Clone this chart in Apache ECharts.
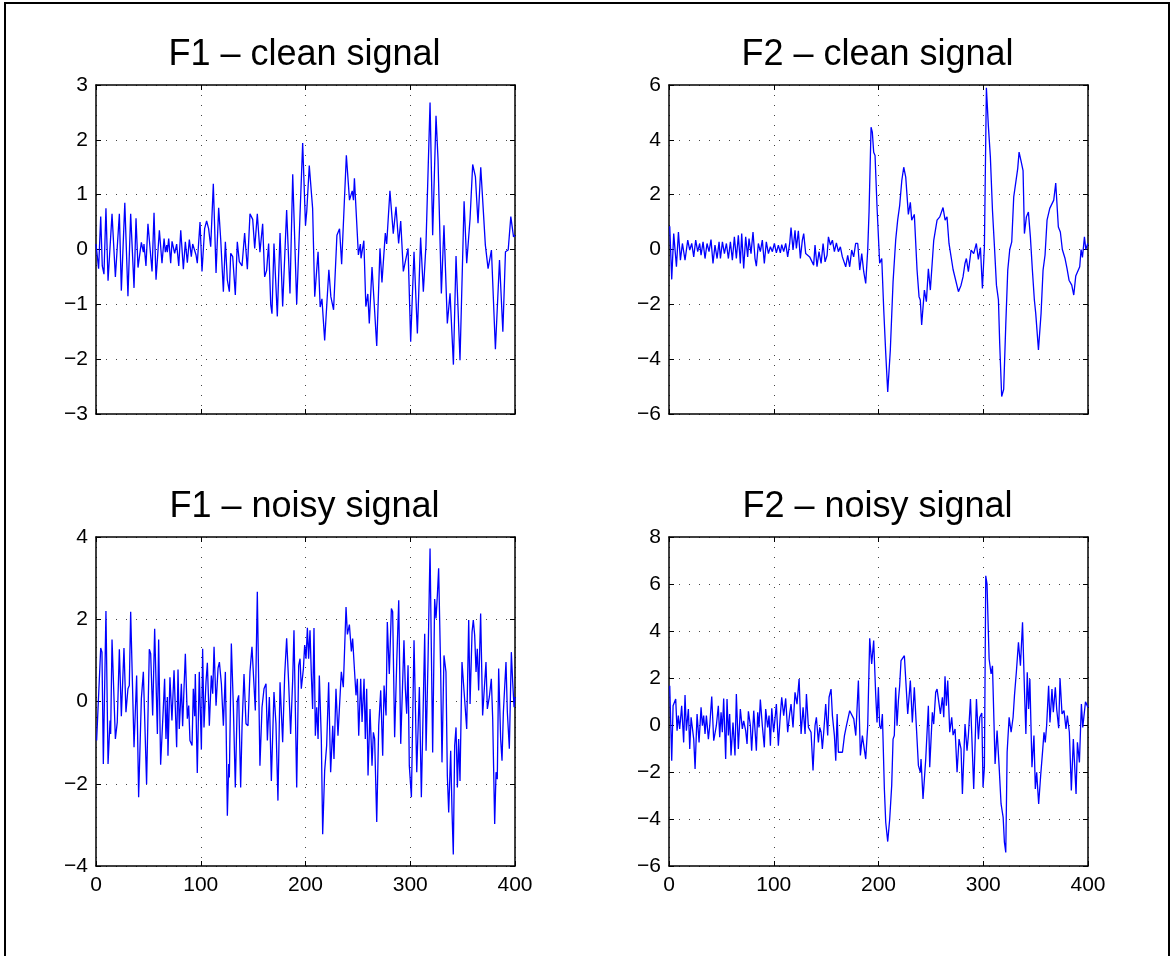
<!DOCTYPE html>
<html>
<head>
<meta charset="utf-8">
<title>F1 / F2 signals</title>
<script src="https://cdn.jsdelivr.net/npm/echarts@6/dist/echarts.min.js"></script>
<style>
  html, body { margin: 0; padding: 0; background: #fff; }
  #main { width: 1171px; height: 956px; }
</style>
</head>
<body>
<div id="main"></div>
<script>
// x ticks shared by all panels
var xTicks = [0, 100, 200, 300, 400];

// titles
var titles = ['F1 \u2013 clean signal', 'F2 \u2013 clean signal', 'F1 \u2013 noisy signal', 'F2 \u2013 noisy signal'];

// y ranges [min, max, step]
var f1CleanTicks = [-3, 3, 1];
var f2CleanTicks = [-6, 6, 2];
var f1NoisyTicks = [-4, 4, 2];
var f2NoisyTicks = [-6, 8, 2];

// signals, [sample, value]
var f1Clean = [[0,0.1],[2.5,-0.35],[4.5,0.6],[6,-0.3],[7.6,-0.45],[9.5,0.75],[11.5,-0.57],[15.3,0.65],[18.5,-0.5],[22.3,0.65],
  [24.2,-0.75],[27.5,0.85],[30.5,-0.85],[33.1,0.65],[36.3,-0.7],[38.2,0.57],[40.1,-0.33],[43.3,0.13],[45.2,-0.05],[45.8,0.1],
  [47.7,-0.3],[49.6,0.47],[53.5,-0.4],[55.4,0.67],[57.3,-0.55],[60.5,0.35],[63,-0.25],[65,0.2],[66.2,-0.05],[67.5,0.08],
  [68.1,-0.05],[69.4,0.2],[71.3,-0.25],[72.6,0.15],[75.1,-0.07],[77,0.1],[79,-0.3],[80.9,0.35],[83.4,-0.36],[85.3,0.14],
  [87.2,-0.24],[89.1,0.18],[91,-0.13],[92.3,0.1],[94.2,0.1],[95.5,-0.1],[96.7,-0.25],[98,-0.26],[99.3,0.5],[101.2,-0.4],
  [103.7,0.38],[105.6,0.52],[107.5,0.38],[109.5,0.05],[112,1.2],[114.6,-0.43],[117.1,0.76],[119.1,0.17],[121.6,-0.77],[123.5,0.14],
  [125.4,-0.56],[127.3,-0.77],[128.6,-0.07],[130.5,-0.13],[133,-0.83],[134.9,0.14],[136.8,-0.22],[139.4,-0.3],[141.9,0.3],[144.5,-0.36],
  [147,0.65],[149.6,0.55],[151.5,0.02],[154,0.65],[156.5,-0.05],[159.1,0.47],[161,-0.5],[162.9,-0.38],[164.8,0.11],[166.8,-1.0],
  [168,-1.17],[169.9,0.11],[173.1,-1.22],[175.7,0.3],[178.2,-1.04],[182,0.72],[185.2,-0.8],[187.8,1.37],[191.6,-1.0],[197.3,1.94],
  [200,0.44],[201.2,0.7],[203.6,1.53],[206.8,0.75],[208.8,-0.86],[212,-0.04],[214,-1.05],[215.7,-0.9],[218.3,-1.66],[222.3,-0.37],
  [224.2,-0.86],[226.8,-1.1],[230,0.26],[232.5,0.38],[234.5,-0.27],[239,1.72],[242,0.9],[244.6,1.07],[245.8,0.9],[246.7,1.3],
  [250.5,-0.1],[252.4,0.1],[253,-0.16],[255.7,0.16],[257.6,-1.04],[259.5,-0.81],[260.9,-1.35],[263.5,-0.32],[268,-1.76],[271.1,0.02],
  [273,-0.6],[276.2,0.3],[277.5,0.1],[280.6,1.07],[283.8,0.29],[286.4,0.78],[288.9,0.11],[290.9,0.52],[293.4,-0.4],[297.9,0.02],
  [300.4,-1.68],[303.6,-0.04],[306.8,-1.53],[309.9,0.22],[312.5,-0.77],[315,0.08],[318.9,2.68],[321.4,0.26],[324.6,2.44],[326.5,1.65],
  [329.7,-0.8],[332.2,0.44],[335.4,-1.35],[338,-0.8],[341.2,-2.1],[343.7,-0.12],[347.5,-2.02],[351.4,0.88],[353.9,-0.25],[357.1,0.56],
  [359.6,1.55],[362.2,1.33],[364.7,0.48],[367.3,1.5],[371.7,0.08],[374.3,-0.35],[377.5,-0.01],[381.3,-1.82],[385.2,-0.19],[388.4,-1.5],
  [390.9,-0.04],[393.5,-0.01],[396,0.6],[398.6,0.23],[400,0.26]];

var f2Clean = [[0.7,0.85],[2.6,-1.09],[4.5,0.58],[7.1,-0.63],[9,0.64],[10.9,-0.39],[12.8,0.22],[15.3,-0.39],[17.9,0.34],[19.8,-0.02],
  [21.7,0.22],[23.6,-0.27],[25.5,0.34],[27.4,-0.08],[29.3,0.22],[30.6,-0.21],[32.5,0.28],[34.4,-0.33],[36.3,0.22],[38.2,-0.08],
  [40.1,0.36],[42,-0.51],[43.9,0.16],[45.9,-0.33],[47.8,0.28],[49.1,-0.33],[51,0.28],[52.9,-0.15],[54.8,0.22],[56.7,-0.33],
  [58.6,0.28],[60.5,-0.39],[62.4,0.46],[64.3,-0.33],[66.2,0.52],[68.1,-0.51],[69.4,0.58],[71.3,-0.69],[73.2,0.46],[75.1,-0.27],
  [76.4,0.4],[78.3,-0.15],[80.2,0.64],[82.1,-0.33],[83.4,-0.61],[85.3,0.22],[87.2,-0.08],[89.1,0.34],[91,-0.51],[92.9,0.28],
  [94.9,-0.15],[96.8,0.1],[98.7,-0.08],[100.6,0.22],[102.5,-0.12],[104.4,0.16],[106.3,-0.12],[107.6,0.18],[109.5,-0.08],[111.4,0.22],
  [113.3,-0.27],[115.2,0.22],[116.5,0.8],[118.4,-0.02],[120.3,0.7],[121.6,0.04],[123.5,0.68],[125.4,-0.33],[127.3,0.34],[128.6,0.58],
  [130.5,-0.15],[132.4,-0.08],[134.3,-0.27],[136.2,-0.33],[138.1,-0.57],[139.4,0.16],[141.3,-0.63],[143.2,-0.08],[145.2,-0.51],[147.1,0.22],
  [149,-0.45],[150.9,-0.21],[152.2,0.46],[154.1,0.16],[156,0.34],[157.9,-0.08],[159.8,0.24],[161.7,-0.08],[163.6,0.1],[165.5,-0.27],
  [167.4,-0.33],[168.7,-0.63],[170.6,-0.21],[172.5,-0.63],[174.4,-0.02],[176.3,-0.27],[178.2,0.22],[180.2,0.22],[182.1,-0.75],[184,-0.15],
  [185.9,-0.81],[187.8,-1.24],[189.7,-0.02],[191,1.4],[192.9,4.46],[194.1,4.28],[195.4,3.55],[196.7,3.43],[198.6,1.55],[199.9,1.55],
  [201.1,-0.5],[203.1,-0.33],[205,-2.2],[206.9,-3.78],[208.8,-5.2],[211.3,-3.66],[213.9,-1.18],[216.4,0.34],[218.3,1.07],[220.2,1.6],
  [222.2,2.5],[224.1,3.0],[226,2.64],[228.5,1.28],[230.4,1.72],[231.7,1.07],[234.2,1.28],[236.8,-0.75],[238.7,-1.72],[239.9,-1.84],
  [241.2,-2.75],[243.8,-1.48],[245.7,-1.9],[247.6,-0.7],[249.5,-1.48],[250.8,-1.48],[252.7,0.32],[254.6,0.34],[255.9,1.07],[257.2,1.05],
  [258.5,1.19],[259.7,1.21],[261.6,1.53],[263.6,1.07],[265.4,1.19],[267.3,0.22],[269.2,0.2],[271.2,-0.73],[273.1,-0.7],[276.3,-1.54],
  [278.8,-1.3],[280.7,-1.0],[282.6,-0.5],[283.9,-0.33],[285.8,-0.81],[288.4,-0.02],[290.9,-0.15],[293.4,0.22],[295.3,-0.36],[297.3,0.07],
  [299.2,-1.42],[301.1,0.1],[303,5.9],[304.9,4.5],[306.8,3.37],[308.8,1.43],[310.7,0.1],[312.6,-1.3],[314.5,-1.84],[315.7,-3.42],
  [317.6,-5.36],[319.5,-5.1],[321.5,-2.75],[323.4,-0.75],[325.3,0],[327.2,0.28],[329.1,1.92],[331,1.94],[332.9,2.95],[334.2,3.55],
  [336.1,3.22],[338,2.88],[339.3,0.58],[341.2,1.19],[343.1,1.37],[345,0.46],[346.9,-0.75],[348.8,-1.84],[350.1,-2.33],[352.7,-3.66],
  [355.2,-2.33],[357.1,-0.75],[359,-0.2],[360.9,1.07],[363.5,1.5],[365.4,1.55],[367.3,1.8],[369.2,2.42],[371.7,0.82],[373.6,0.64],
  [375.5,0],[378.1,-0.33],[380,-0.7],[381.9,-1.12],[384.5,-1.3],[386.4,-1.66],[388.3,-0.97],[390.2,-0.99],[392.1,-0.63],[393.4,0],
  [394.7,-0.29],[396.6,0.46],[397.9,0],[399.8,0.22]];

var f1Noisy = [[0.6,-0.95],[2.5,-0.91],[4.5,1.3],[5.7,1.2],[7,-1.52],[9.5,2.2],[11.5,-1.52],[13.4,-0.46],[14,-0.79],[15.3,1.51],
  [18.5,-0.91],[20.3,-0.5],[22.3,1.27],[24.2,-0.36],[26.7,1.3],[28.6,-0.26],[30.5,0.31],[31.8,0.39],[33.1,2.18],[36.3,-1.11],
  [38.8,0.63],[40.7,-2.33],[43.3,0.07],[45.2,0.72],[48.3,-2.01],[50.9,1.27],[52.2,1.16],[54.1,-0.34],[56,1.77],[58.6,-0.79],
  [59.8,1.51],[61.7,-1.54],[64.3,-0.14],[65.5,0.55],[66.8,-0.91],[68.1,0.11],[68.7,-1.32],[70.6,0.59],[72.5,-0.46],[74.5,0.76],
  [77,-1.11],[78.3,0.78],[79.5,-0.67],[81.5,0.43],[82.7,-0.6],[84,0.31],[85.3,1.16],[87.2,-0.42],[88.5,-0.1],[89.7,-0.95],
  [91.7,-1.07],[92.9,0.31],[94.2,-0.36],[94.8,0.67],[96.7,-1.74],[98.6,0.72],[100.6,-1.17],[101.8,1.28],[103.1,-0.63],[105,0.47],
  [106.3,0.94],[108.2,-0.59],[110.1,0.63],[111.4,0.19],[112.7,1.33],[114.6,-0.1],[116.5,0.81],[117.8,0.96],[119.7,0.43],[121.6,-0.59],
  [123.5,0.72],[125.4,-2.78],[126.7,-1.52],[127.3,-1.85],[129.2,1.41],[131.1,-0.1],[133,-2.09],[134.9,0.02],[136.2,0.15],[138.1,-2.09],
  [139.4,-0.63],[141.3,0.67],[143.2,-0.54],[145.1,-0.59],[147,0.72],[148.9,1.33],[152.1,-0.22],[154,2.67],[156.5,-1.56],[158.5,-0.14],
  [160.4,0.31],[162.3,0.43],[163.6,-0.95],[165.5,0.11],[167.4,-1.93],[169.9,0.23],[171.8,-0.54],[173.7,-2.41],[175.7,0.47],[176.9,0.47],
  [178.2,-0.99],[180.1,0.63],[182,1.54],[183.9,0.47],[185.8,-0.79],[187.8,0.55],[189,1.73],[191.6,-2.09],[193.5,0.88],[194.8,1.04],
  [196,0.31],[198,0.8],[199.2,1.37],[200.5,1.04],[201.8,1.79],[203,1.04],[204.3,1.73],[205.6,0.63],[206.8,-0.18],[208.1,1.79],
  [209.4,-0.83],[210.7,-0.14],[212,-0.91],[213.2,0.63],[215.1,-0.91],[216.4,-3.23],[218.3,-1.68],[220.2,-1.07],[222.1,0.47],[224,-1.72],
  [226,-0.59],[227.2,-1.4],[229.1,0.31],[231,-0.83],[234.2,0.72],[236.1,0.35],[238.7,2.3],[240,1.63],[241.9,1.87],[243.8,1.22],
  [245,1.53],[246.3,0.96],[248.2,0.15],[249.5,0.55],[250.8,-0.83],[252.7,0.55],[254,-0.5],[255.9,0.55],[257.1,-0.91],[258.4,0.31],
  [259.7,-1.8],[261.6,-0.18],[263.5,-1.56],[264.8,-0.75],[266,-0.91],[268,-2.93],[269.9,-0.59],[271.8,0.27],[273.7,-1.32],[275,0.39],
  [276.9,-0.34],[278.1,1.93],[280,0.67],[282,2.26],[283.2,2.18],[285.1,-0.87],[287.1,0.96],[289,2.46],[290.9,-1.03],[292.1,-1.07],
  [294,1.49],[295.3,0.31],[296.6,-0.3],[297.9,0.88],[299.1,-1.56],[301.1,-2.33],[303.6,1.49],[306.2,-1.72],[308.7,0.35],[310.6,-2.33],
  [313.8,1.65],[315.1,-1.2],[317,1.04],[318.9,3.72],[321.4,-1.24],[323.3,2.49],[324.6,2.02],[325.9,2.59],[327.1,3.24],[329,0.8],
  [330.3,-1.48],[332.2,1.12],[334.1,0.72],[335.4,-1.8],[336.7,-2.7],[338.6,-1.2],[339.9,-2.7],[341.1,-3.72],[342.4,-1.07],[343.7,-0.63],
  [345,-2.09],[346.2,-0.91],[347.5,-1.93],[349.4,0.96],[351.3,0.92],[353.9,-0.67],[355.8,1.98],[357.1,-0.06],[359,1.69],[360.2,1.98],
  [361.5,1.61],[362.8,0.72],[364,1.28],[365.3,0.27],[367.2,2.14],[369.1,-0.34],[371,-0.34],[372.3,0.96],[373.6,-0.18],[375.5,0.11],
  [377.4,0.55],[378.7,-0.42],[380.6,-2.98],[381.9,-1.72],[383.1,-1.89],[384.4,0.8],[386.3,-0.91],[387.6,-1.44],[388.9,-0.26],[391.4,0.96],
  [392.7,-0.26],[394.6,-1.15],[396.5,1.2],[397.8,0.47],[399.1,-0.14],[400,0.11]];

var f2Noisy = [[0.7,1.67],[2.6,-1.52],[3.9,0.82],[5.1,0.75],[6.4,1.11],[7.7,-0.24],[8.9,0.4],[10.2,-0.17],[12.1,0.82],[14,-0.74],
  [15.3,1.28],[16.6,-0.24],[18.5,0.68],[19.8,-1.02],[21.1,0.33],[22.3,0.33],[23.6,-0.6],[24.9,-1.87],[26.8,0.47],[28.7,-0.74],
  [30.6,0.75],[31.9,-0.03],[33.1,0.4],[34.4,-0.38],[35.7,0.4],[37.6,-0.6],[38.9,-0.03],[40.8,1.21],[42.7,-0.67],[45.2,-0.03],
  [47.1,0.82],[48.4,-0.52],[49.7,0.54],[50.9,-0.31],[52.2,1.13],[54.1,-1.45],[55.4,1.11],[56.7,-0.45],[57.9,0.47],[59.2,-1.3],
  [61.1,0.11],[63,-1.3],[64.3,1.32],[66.2,-1.02],[68.1,0.68],[70,-0.17],[71.3,0.18],[73.2,-0.24],[74.5,-0.81],[75.8,0.58],
  [77.7,-0.03],[78.9,-1.09],[80.9,0.61],[82.1,0.61],[83.4,-1.09],[84.7,0.54],[85.9,-0.1],[87.2,1.08],[89.1,-0.03],[91,-0.95],
  [92.3,0.68],[94.2,-0.1],[95.5,0.4],[96.8,-0.88],[98.1,0.71],[99.9,-0.31],[101.2,0.26],[102.5,0.89],[104.4,-0.88],[106.3,0.43],
  [107.6,1.18],[109.5,0.4],[111.4,1.13],[113.3,-0.31],[115.2,0.47],[116.5,0.89],[118.4,-0.1],[120.3,1.39],[122.2,0.89],[124.2,1.96],
  [126.1,-0.38],[128,0.75],[129.9,-0.38],[131.2,1.32],[133.1,-0.1],[135.6,-0.31],[137.5,-1.94],[139.4,-0.03],[140.7,0.33],[142.6,-0.74],
  [143.9,-0.1],[145.2,-0.31],[146.4,-1.02],[147.7,-0.31],[149.6,0.89],[151.5,-0.45],[152.8,1.18],[154.7,1.53],[156,0.4],[157.9,-0.45],
  [159.2,-1.52],[160.5,0.47],[161.7,-1.16],[163.6,-1.09],[165.6,-1.16],[167.5,-0.45],[169.4,-0.03],[171.3,-0.03],[172.5,0.61],[174.4,0.54],
  [176.4,0.26],[178.3,-0.45],[180.8,1.89],[182.7,-1.3],[184.6,-0.45],[185.9,-0.52],[187.8,-1.45],[189.7,-0.03],[191.6,3.69],[193.5,2.6],
  [195.4,3.59],[197.3,1.32],[198.6,0.11],[199.9,1.6],[201.1,-0.03],[202.4,-0.17],[203.7,0.47],[205.6,-2.72],[206.9,-4.14],[208.8,-4.96],
  [210.7,-4.0],[212.6,-2.58],[213.9,-0.6],[215.1,-0.45],[216.4,1.6],[217.7,-0.03],[219,1.04],[220.2,1.67],[221.5,2.74],[223.4,2.81],
  [224.7,2.95],[226,2.95],[227.9,0.47],[230.4,1.89],[232.3,0.11],[234.2,1.6],[236.1,-0.03],[238.1,-1.73],[240,-2.01],[240.6,-1.45],
  [242.5,-3.15],[245.1,-1.45],[247.6,0.82],[248.9,-1.8],[251.4,0.54],[252.7,0.04],[254.6,1.39],[255.9,1.53],[257.8,1.6],[259.1,0.47],
  [261,1.18],[262.3,0.33],[263.5,2.07],[264.8,0.82],[266.1,1.89],[268,-0.31],[269.9,0.33],[271.2,-0.43],[273.1,-0.17],[275,-2.01],
  [276.9,-0.6],[278.8,-1.02],[280.1,-2.94],[282.6,0.04],[284.5,-1.09],[285.8,-0.45],[287.8,1.11],[289,1.11],[290.9,-2.72],[293.5,1.11],
  [295.4,-0.6],[296.7,0.33],[298.6,0.51],[299.8,-2.65],[301.1,-1.8],[302.4,6.35],[303.6,6.0],[305.6,2.81],[307.5,2.17],[308.8,2.52],
  [311.3,-1.66],[313.2,-0.24],[315.1,-1.73],[317,-3.36],[319,-3.93],[320.2,-4.99],[321.5,-5.42],[322.8,-1.16],[324.7,0.33],[326.6,-0.31],
  [328.5,0.33],[329.8,1.25],[331.7,2.31],[333.6,3.52],[335.5,2.52],[337.5,4.37],[339.4,1.39],[340.7,-0.38],[342,2.24],[343.3,0.68],
  [344.5,1.96],[346.5,-1.8],[348.4,-0.45],[349.7,-2.72],[351,-2.01],[352.9,-3.36],[354.8,-2.16],[356.7,-1.09],[358,-0.31],[359.2,-0.74],
  [360.5,-0.03],[362.4,1.67],[363.7,0.11],[365.6,1.53],[366.9,0.54],[368.8,1.6],[370.1,0.68],[372,-0.14],[373.3,1.99],[375.2,0.47],
  [377.1,0.61],[379,-0.17],[380.3,0.4],[382.2,-0.31],[384.1,-2.79],[386,-0.6],[388.6,-2.94],[389.9,-0.74],[391.8,-1.59],[393.7,0.89],
  [395,-0.1],[397.6,0.99],[400,0.75]];

var FONT = '"Liberation Sans", Arial, Helvetica, sans-serif';

var myChart = echarts.init(document.getElementById('main'), null, { renderer: 'canvas' });

// panel layout
var panels = [
    { left: 96,  top: 85,  data: f1Clean, y: f1CleanTicks, xLabels: false },
    { left: 669, top: 85,  data: f2Clean, y: f2CleanTicks, xLabels: false },
    { left: 96,  top: 537, data: f1Noisy, y: f1NoisyTicks, xLabels: true },
    { left: 669, top: 537, data: f2Noisy, y: f2NoisyTicks, xLabels: true }
];
var W = 419, H = 329;

function fmt(v) {
    return v < 0 ? '\u2212' + (-v) : String(v);
}

var grid = [], xAxis = [], yAxis = [], series = [], title = [];
var dotted = { color: '#444', width: 1, type: [1, 9] };
var boxLine = { color: '#000', width: 1.5 };
var tick = { show: true, inside: true, length: 5, lineStyle: { color: '#000' } };

panels.forEach(function(p, i) {
    grid.push({ left: p.left, top: p.top, width: W, height: H, containLabel: false });
    title.push({
        text: titles[i],
        left: p.left + W / 2 - 1,
        top: p.top - 48,
        padding: 0,
        textAlign: 'center',
        textStyle: { fontFamily: FONT, fontSize: 36, fontWeight: 'normal', color: '#000' }
    });
    // bottom x axis
    xAxis.push({
        type: 'value', gridIndex: i, min: xTicks[0], max: xTicks[xTicks.length - 1], interval: 100,
        position: 'bottom',
        axisLine: { show: true, onZero: false, lineStyle: boxLine },
        axisTick: tick,
        axisLabel: { show: p.xLabels, fontFamily: FONT, fontSize: 21, color: '#000', margin: 9, formatter: fmt },
        splitLine: { show: true, lineStyle: dotted }
    });
    // top x axis, box only
    xAxis.push({
        type: 'value', gridIndex: i, min: xTicks[0], max: xTicks[xTicks.length - 1], interval: 100,
        position: 'top',
        axisLine: { show: true, onZero: false, lineStyle: boxLine },
        axisTick: tick,
        axisLabel: { show: false },
        splitLine: { show: false }
    });
    yAxis.push({
        type: 'value', gridIndex: i, min: p.y[0], max: p.y[1], interval: p.y[2],
        position: 'left',
        axisLine: { show: true, onZero: false, lineStyle: boxLine },
        axisTick: tick,
        axisLabel: { fontFamily: FONT, fontSize: 21, color: '#000', margin: 8, formatter: fmt },
        splitLine: { show: true, lineStyle: dotted }
    });
    yAxis.push({
        type: 'value', gridIndex: i, min: p.y[0], max: p.y[1], interval: p.y[2],
        position: 'right',
        axisLine: { show: true, onZero: false, lineStyle: boxLine },
        axisTick: tick,
        axisLabel: { show: false },
        splitLine: { show: false }
    });
    series.push({
        type: 'line',
        xAxisIndex: i * 2,
        yAxisIndex: i * 2,
        data: p.data,
        showSymbol: false,
        symbol: 'none',
        lineStyle: { color: '#0000ff', width: 1.3 },
        z: 3
    });
});

var option = {
    backgroundColor: '#fff',
    animation: false,
    title: title,
    grid: grid,
    xAxis: xAxis,
    yAxis: yAxis,
    series: series,
    // figure frame
    graphic: [{
        type: 'rect',
        shape: { x: 5, y: 3, width: 1164, height: 970 },
        style: { fill: 'none', stroke: '#000', lineWidth: 2 },
        silent: true
    }]
};

myChart.setOption(option);
</script>
</body>
</html>
